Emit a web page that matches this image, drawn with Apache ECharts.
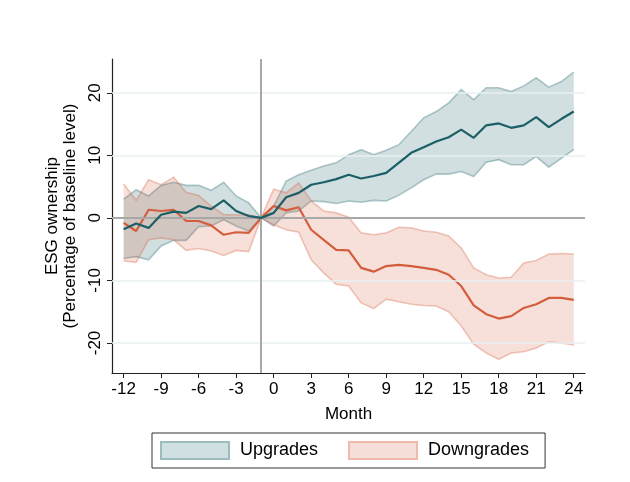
<!DOCTYPE html>
<html>
<head>
<meta charset="utf-8">
<script src="https://cdn.jsdelivr.net/npm/echarts@6/dist/echarts.min.js"></script>
<style>html,body{margin:0;padding:0;background:#fff}#c{width:630px;height:482px}</style>
</head>
<body>
<div id="c"></div>
<script>
var months = [-12,-11,-10,-9,-8,-7,-6,-5,-4,-3,-2,-1,0,1,2,3,4,5,6,7,8,9,10,11,12,13,14,15,16,17,18,19,20,21,22,23,24];
var xTicks = [-12,-9,-6,-3,0,3,6,9,12,15,18,21,24];
var yTicks = [-20,-10,0,10,20];

var upMean  = [-1.8,-0.9,-1.6,0.5,1.0,0.8,1.9,1.4,2.8,1.1,0.3,0, 0.8,3.3,4.0,5.3,5.7,6.2,6.9,6.3,6.7,7.2,8.8,10.4,11.3,12.2,12.9,14.1,12.8,14.8,15.1,14.4,14.8,16.1,14.5,15.8,17.0];
var upHigh  = [3.0,4.5,3.5,5.2,5.7,5.2,5.2,4.4,5.7,3.5,2.4,0, 1.9,5.9,6.9,7.6,8.3,8.8,10.1,10.9,10.1,10.8,11.7,13.8,16.0,17.0,18.4,20.5,18.9,20.8,20.8,20.2,21.1,22.4,20.9,21.8,23.3];
var upLow   = [-6.5,-6.2,-6.7,-4.5,-3.6,-3.6,-1.4,-1.3,-0.3,-1.3,-2.1,0, -1.3,0.8,1.1,2.7,2.6,2.3,2.7,2.5,2.8,2.7,3.6,4.8,6.1,7.0,7.0,7.4,6.6,8.9,9.3,8.5,8.5,9.8,8.1,9.5,10.9];

var downMean = [-0.8,-2.1,1.3,1.1,1.3,-0.5,-0.5,-1.2,-2.7,-2.3,-2.4,0, 1.9,1.2,1.7,-1.9,-3.5,-5.1,-5.2,-8.0,-8.6,-7.7,-7.5,-7.7,-8.0,-8.3,-9.1,-10.9,-14.0,-15.4,-16.1,-15.7,-14.4,-13.8,-12.8,-12.8,-13.1];
var downHigh = [5.4,2.8,6.1,5.3,6.5,4.1,3.6,1.9,0.5,0.5,0.5,0, 4.6,4.0,5.6,2.7,1.1,0.8,0.1,-2.4,-2.7,-2.4,-1.5,-1.6,-2.1,-2.3,-2.9,-4.8,-8.0,-9.1,-9.6,-9.5,-7.2,-6.8,-5.8,-5.7,-5.8];
var downLow  = [-6.9,-7.1,-3.5,-3.2,-3.5,-5.2,-4.9,-5.3,-6.0,-5.2,-5.4,0, -1.1,-1.9,-2.3,-6.7,-8.8,-10.6,-10.9,-13.6,-14.5,-13.0,-13.4,-13.8,-14.0,-14.1,-15.0,-17.3,-20.2,-21.6,-22.6,-21.6,-21.4,-20.8,-19.8,-20.0,-20.3];

var seriesNames = ['Upgrades','Downgrades'];
var FONT = 'Liberation Sans, Arial, Helvetica, sans-serif';

var teal = '#1b5f66', tealFill = 'rgba(27,95,102,0.2)', tealEdge = 'rgba(27,95,102,0.32)';
var orng = '#d35d3d', orngFill = 'rgba(216,100,70,0.2)', orngEdge = 'rgba(216,100,70,0.35)';

function pairs(arr){ return months.map(function(m,i){ return [m, arr[i]]; }); }
function triples(lo, hi){ return months.map(function(m,i){ return [m, lo[i], hi[i]]; }); }

function band(name, lo, hi, fill, edge){
  return { name: name, type:'custom', data: triples(lo, hi), silent:true, z:2,
    encode:{x:0, y:[1,2]},
    itemStyle:{color:fill},
    renderItem: function(params, api){
      if (params.dataIndexInside !== 0) return null;
      var n = params.dataInsideLength;
      var top = [], bot = [];
      for (var i = 0; i < n; i++){
        var x = api.value(0, i);
        top.push(api.coord([x, api.value(2, i)]));
        bot.push(api.coord([x, api.value(1, i)]));
      }
      var poly = top.concat(bot.slice().reverse());
      return { type:'group', children:[
        { type:'polygon', shape:{points:poly}, style:{fill:fill, stroke:null} },
        { type:'polyline', shape:{points:top}, style:{fill:null, stroke:edge, lineWidth:1.6} },
        { type:'polyline', shape:{points:bot}, style:{fill:null, stroke:edge, lineWidth:1.6} }
      ]};
    }
  };
}

var series = [];
series.push(band(seriesNames[0], upLow, upHigh, tealFill, tealEdge));
series.push(band(seriesNames[1], downLow, downHigh, orngFill, orngEdge));
series.push({ name:'gridref', type:'line', data:[], silent:true,
  markLine:{ silent:true, symbol:'none', label:{show:false}, animation:false,
    data: yTicks.filter(function(v){return v!==0;}).map(function(v){ return {yAxis:v, lineStyle:{color:'#e9f0f2', width:1.5, type:'solid'}}; })
      .concat([{yAxis:0, lineStyle:{color:'#a8a8a8', width:2, type:'solid'}},
               {xAxis:-1, lineStyle:{color:'#a8a8a8', width:2, type:'solid'}}])
  }, z:1 });
series.push({ name:'upMean', type:'line', data: pairs(upMean), symbol:'none', silent:true, lineStyle:{color:teal,width:2.2}, z:5 });
series.push({ name:'downMean', type:'line', data: pairs(downMean), symbol:'none', silent:true, lineStyle:{color:orng,width:2.2}, z:4 });

var chart = echarts.init(document.getElementById('c'), null, {renderer:'canvas'});
chart.setOption({
  animation:false,
  backgroundColor:'#fff',
  grid:{left:112, right:45, top:59, bottom:109},
  xAxis:{ type:'value', min:-12.93, max:24.9,
    name:'Month', nameLocation:'middle', nameGap:33,
    nameTextStyle:{fontFamily:FONT, fontSize:17, color:'#000'},
    axisLine:{show:true, onZero:false, lineStyle:{color:'#222', width:1.2}},
    axisTick:{show:true, length:5, customValues:xTicks, lineStyle:{color:'#222'}},
    axisLabel:{customValues:xTicks, fontFamily:FONT, fontSize:17, color:'#000', margin:8, showMinLabel:true, showMaxLabel:true},
    splitLine:{show:false}
  },
  yAxis:{ type:'value', min:-24.8, max:25.4,
    name:'ESG ownership\n(Percentage of baseline level)', nameLocation:'middle', nameRotate:90, nameGap:29,
    nameTextStyle:{fontFamily:FONT, fontSize:17, color:'#000', lineHeight:18},
    axisLine:{show:true, onZero:false, lineStyle:{color:'#222', width:1.2}},
    axisTick:{show:true, length:5, customValues:yTicks, lineStyle:{color:'#222'}},
    axisLabel:{customValues:yTicks, rotate:90, fontFamily:FONT, fontSize:17, color:'#000', margin:8},
    splitLine:{show:false}
  },
  legend:{ show:true, left:152, top:433, padding:[8,16,8,8],
    orient:'horizontal', icon:'rect', itemWidth:68, itemHeight:17, itemGap:30,
    borderColor:'#333', borderWidth:1, borderRadius:0,
    textStyle:{fontFamily:FONT, fontSize:18, color:'#000', padding:[0,0,0,6]},
    selectedMode:false,
    data:[
      {name:'Upgrades', itemStyle:{color:'#d0e0e2', borderColor:'#9cbcbf', borderWidth:2}},
      {name:'Downgrades', itemStyle:{color:'#f7ded8', borderColor:'#efb9ab', borderWidth:2}}
    ]
  },
  series: series
});
</script>
</body>
</html>
